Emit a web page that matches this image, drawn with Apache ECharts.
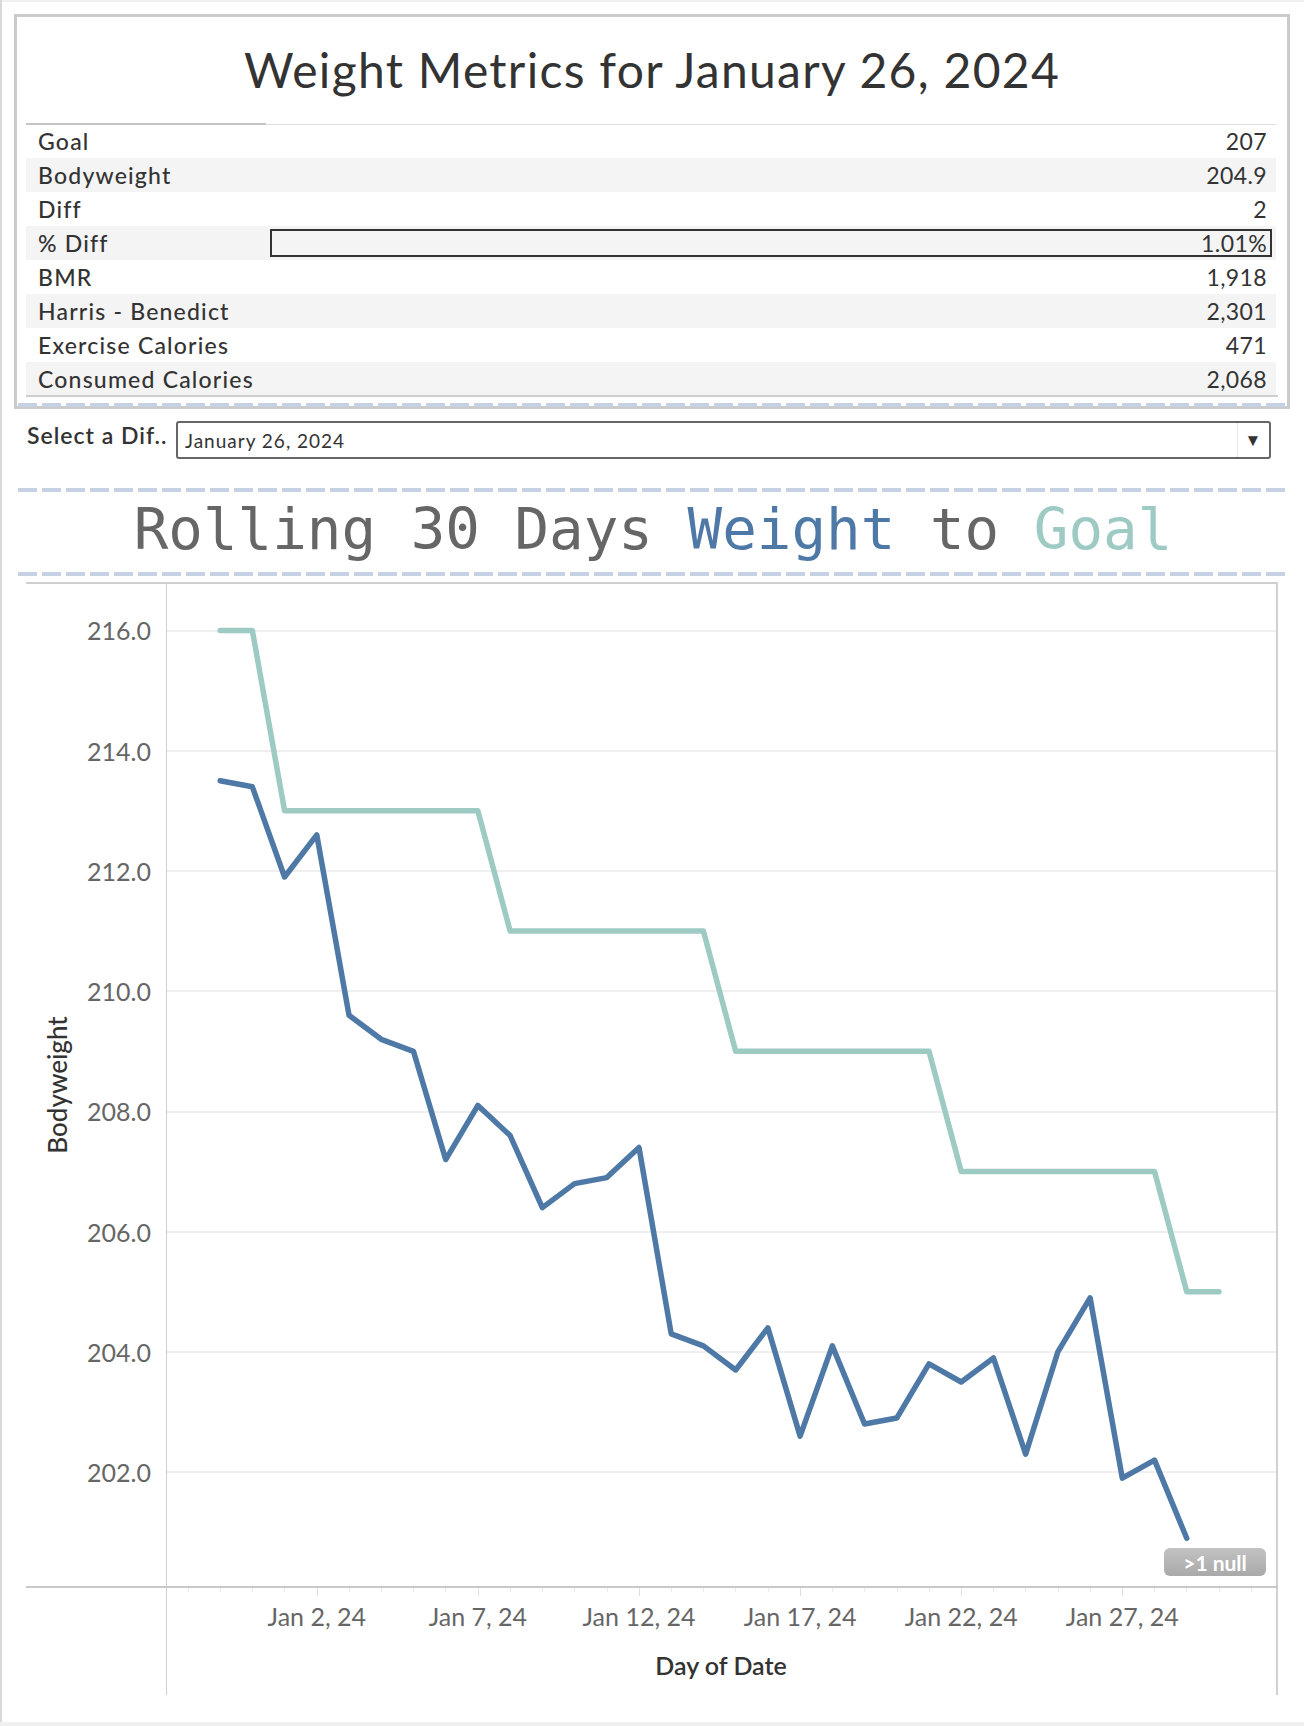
<!DOCTYPE html>
<html>
<head>
<meta charset="utf-8">
<script src="https://cdn.jsdelivr.net/npm/echarts@6/dist/echarts.min.js"></script>
<style>
html,body{margin:0;padding:0;background:#fff;}
body{width:1304px;height:1726px;position:relative;overflow:hidden;font-family:Lato,'Open Sans','Noto Sans',sans-serif;color:#333;}
.abs{position:absolute;}
#chart{position:absolute;left:0;top:0;width:1304px;height:1726px;}
.dash{position:absolute;height:4px;background:repeating-linear-gradient(to right,#c6d1e3 0 19px,transparent 19px 24px);}
.row{position:absolute;left:26px;width:1250px;height:34px;}
.row .lab{position:absolute;left:12px;top:0;line-height:34px;font-size:23px;font-weight:500;letter-spacing:1.2px;color:#333;white-space:nowrap;}
.row .val{position:absolute;right:9px;top:0;line-height:34px;font-size:23px;font-weight:400;letter-spacing:0.4px;color:#333;white-space:nowrap;}
</style>
</head>
<body>
<div id="chart"></div>
<div class="abs" style="left:0;top:0;width:1304px;height:2px;background:#f0f0f0"></div>
<div class="abs" style="left:0;top:0;width:2px;height:1726px;background:#d9d9d9"></div>
<div class="abs" style="left:0;top:1722px;width:1304px;height:4px;background:#f0f0f0"></div>

<div class="abs" style="left:14px;top:14px;width:1276px;height:395px;box-sizing:border-box;border:3px solid #cbcbcb;"></div>
<div id="title1" class="abs" style="left:14px;top:40px;width:1276px;height:60px;line-height:60px;text-align:center;font-size:48px;font-weight:400;letter-spacing:1.3px;color:#333;"></div>
<div id="table"></div>
<div class="dash" style="left:18px;top:403px;width:1268px;"></div>

<div id="selLabel" class="abs" style="left:27px;top:420px;height:30px;line-height:30px;font-size:23px;font-weight:600;letter-spacing:1px;color:#333;"></div>
<div class="abs" style="left:176px;top:421px;width:1095px;height:38px;box-sizing:border-box;border:2px solid #666;border-radius:3px;"></div>
<div id="selValue" class="abs" style="left:185px;top:423px;height:34px;line-height:36px;font-size:19px;letter-spacing:1px;color:#333;"></div>
<div class="abs" style="left:1237px;top:423px;width:1px;height:34px;background:#e6e6e6"></div>
<div class="abs" style="left:1242px;top:423px;width:22px;height:34px;line-height:34px;font-size:17px;color:#333;text-align:center;">&#9660;</div>

<div class="dash" style="left:18px;top:488px;width:1268px;"></div>
<div id="title2" class="abs" style="left:14px;top:495px;width:1278px;height:70px;line-height:70px;text-align:center;font-family:'DejaVu Sans Mono',monospace;font-size:57.5px;white-space:pre;"></div>
<div class="dash" style="left:18px;top:572px;width:1268px;"></div>

<div class="abs" style="left:26px;top:582px;width:1252px;height:2px;background:#d0d0d0"></div>
<div class="abs" style="left:166px;top:583px;width:1px;height:1112px;background:#cfcfcf"></div>
<div class="abs" style="left:1276px;top:583px;width:2px;height:1112px;background:#d0d0d0"></div>
<div class="abs" style="left:26px;top:1586px;width:1252px;height:2px;background:#c8c8c8"></div>

<script>
// ---------- data ----------
const reportDate = 'January 26, 2024';
const metricLabels = ['Goal','Bodyweight','Diff','% Diff','BMR','Harris - Benedict','Exercise Calories','Consumed Calories'];
const metricValues = ['207','204.9','2','1.01%','1,918','2,301','471','2,068'];

const dates = ['2023-12-30','2023-12-31','2024-01-01','2024-01-02','2024-01-03','2024-01-04','2024-01-05','2024-01-06',
  '2024-01-07','2024-01-08','2024-01-09','2024-01-10','2024-01-11','2024-01-12','2024-01-13','2024-01-14',
  '2024-01-15','2024-01-16','2024-01-17','2024-01-18','2024-01-19','2024-01-20','2024-01-21','2024-01-22',
  '2024-01-23','2024-01-24','2024-01-25','2024-01-26','2024-01-27','2024-01-28','2024-01-29','2024-01-30'];
const bodyweight = [213.5,213.4,211.9,212.6,209.6,209.2,209.0,207.2,208.1,207.6,206.4,206.8,206.9,207.4,204.3,204.1,
  203.7,204.4,202.6,204.1,202.8,202.9,203.8,203.5,203.9,202.3,204.0,204.9,201.9,202.2,200.9,null];
const goal = [216,216,213,213,213,213,213,213,213,211,211,211,211,211,211,211,
  209,209,209,209,209,209,209,207,207,207,207,207,207,207,205,205];
const yTickValues = [202,204,206,208,210,212,214,216];
const xLabelDates = ['2024-01-02','2024-01-07','2024-01-12','2024-01-17','2024-01-22','2024-01-27'];
const monthNames = ['Jan','Feb','Mar','Apr','May','Jun','Jul','Aug','Sep','Oct','Nov','Dec'];

// ---------- HTML parts ----------
document.getElementById('title1').textContent = 'Weight Metrics for ' + reportDate;
document.getElementById('selLabel').textContent = 'Select a Dif..';
document.getElementById('selValue').textContent = reportDate;
document.getElementById('title2').innerHTML =
  '<span style="color:#666">Rolling 30 Days </span><span style="color:#4e79a7">Weight</span>' +
  '<span style="color:#666"> to </span><span style="color:#9ecac4">Goal</span>';

const table = document.getElementById('table');
let html = '';
metricLabels.forEach((lab, i) => {
  const top = 124 + 34 * i;
  html += '<div class="row" style="top:' + top + 'px;background:' + (i % 2 ? '#f4f4f4' : '#fff') + '">' +
    '<div class="lab">' + lab + '</div><div class="val">' + metricValues[i] + '</div></div>';
});
html += '<div class="abs" style="left:26px;top:123px;width:240px;height:2px;background:#c4c4c4"></div>';
html += '<div class="abs" style="left:266px;top:124px;width:1010px;height:1px;background:#dedede"></div>';
html += '<div class="abs" style="left:26px;top:395px;width:1252px;height:2px;background:#cfcfcf"></div>';
html += '<div class="abs" style="left:270px;top:229px;width:1002px;height:28px;box-sizing:border-box;border:2px solid #333;"></div>';
table.innerHTML = html;

// ---------- chart (x = day number since 1970-01-01 UTC) ----------
const DAY = 86400000;
function dayNum(s) { const p = s.split('-').map(Number); return Date.UTC(p[0], p[1] - 1, p[2]) / DAY; }
const xMin = dayNum(dates[0]) - 1.68;
const xMax = dayNum(dates[dates.length - 1]) + 1.77;
const dayTicks = [];
for (let t = dayNum(dates[0]) - 1; t <= xMax; t += 1) dayTicks.push(t);
const labelTicks = xLabelDates.map(dayNum);
function fmtDate(v) {
  const d = new Date(Math.round(v) * DAY);
  return monthNames[d.getUTCMonth()] + ' ' + d.getUTCDate() + ', ' + String(d.getUTCFullYear()).slice(2);
}

const chart = echarts.init(document.getElementById('chart'), null, {renderer: 'svg'});
chart.setOption({
  animation: false,
  textStyle: {fontFamily: 'Lato, "Open Sans", sans-serif'},
  grid: {left: 166, right: 28, top: 583, bottom: 139, containLabel: false},
  xAxis: [{
    type: 'value', min: xMin, max: xMax, gridIndex: 0,
    axisLine: {show: false},
    axisTick: {show: true, customValues: dayTicks, length: 5, lineStyle: {color: '#ececec', width: 1}},
    axisLabel: {customValues: labelTicks, formatter: fmtDate, color: '#666', fontSize: 25, margin: 16, fontFamily: 'Lato'},
    splitLine: {show: false},
    name: 'Day of Date', nameLocation: 'middle', nameGap: 65,
    nameTextStyle: {color: '#333', fontSize: 25, fontWeight: 600, fontFamily: 'Lato'}
  }, {
    type: 'value', min: xMin, max: xMax, gridIndex: 0, position: 'bottom',
    axisLine: {show: false},
    axisTick: {show: true, customValues: labelTicks, length: 9, lineStyle: {color: '#dedede', width: 1}},
    axisLabel: {show: false},
    splitLine: {show: false}
  }],
  yAxis: {
    type: 'value', min: 200.09, max: 216.79,
    axisLine: {show: false},
    axisTick: {show: false, customValues: yTickValues},
    axisLabel: {customValues: yTickValues, formatter: v => v.toFixed(1), color: '#666', fontSize: 25, margin: 15, fontFamily: 'Lato'},
    splitLine: {show: true, lineStyle: {color: '#efefef', width: 2}},
    name: 'Bodyweight', nameLocation: 'middle', nameGap: 96, nameRotate: 90,
    nameTextStyle: {color: '#333', fontSize: 26, fontWeight: 500, fontFamily: 'Lato'}
  },
  series: [{
    name: 'Goal', type: 'line', xAxisIndex: 0, symbol: 'none',
    data: dates.map((d, i) => [dayNum(d), goal[i]]),
    lineStyle: {color: '#9ecac4', width: 5.5, cap: 'round', join: 'round'},
    itemStyle: {color: '#9ecac4'}
  }, {
    name: 'Bodyweight', type: 'line', xAxisIndex: 0, symbol: 'none',
    data: dates.map((d, i) => [dayNum(d), bodyweight[i]]),
    lineStyle: {color: '#4e79a7', width: 5.5, cap: 'round', join: 'round'},
    itemStyle: {color: '#4e79a7'}
  }],
  graphic: [{
    type: 'group', left: 1164, top: 1548,
    children: [{
      type: 'rect', shape: {x: 0, y: 0, width: 102, height: 28, r: 6},
      style: {fill: new echarts.graphic.LinearGradient(0, 0, 0, 1, [{offset: 0, color: '#c2c2c2'}, {offset: 1, color: '#a9a9a9'}])}
    }, {
      type: 'text', x: 51, y: 14,
      style: {text: '>1 null', fill: '#fff', font: 'bold 21px Lato, sans-serif', align: 'center', verticalAlign: 'middle'}
    }]
  }]
});
</script>
</body>
</html>
